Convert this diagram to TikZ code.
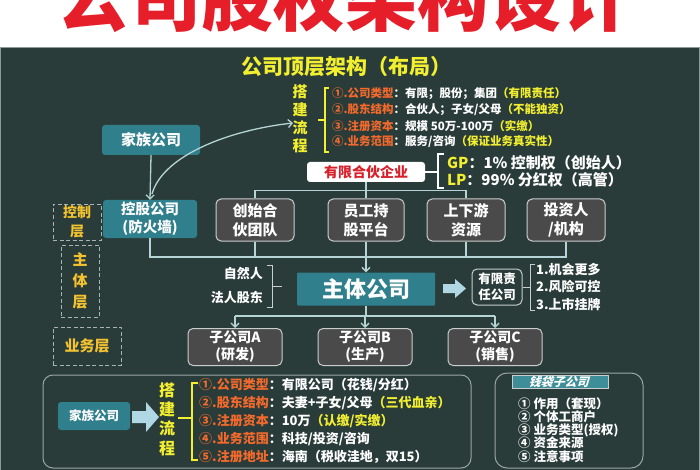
\documentclass[tikz,border=0pt]{standalone}
\usepackage{fontspec}
\setmainfont{Noto Sans CJK SC}
\usetikzlibrary{arrows.meta}
\definecolor{board}{HTML}{293C39}
\definecolor{boardedge}{HTML}{8A9A98}
\definecolor{tealc}{HTML}{2F7F8C}
\definecolor{hdrteal}{HTML}{3D8E98}
\definecolor{grayc}{HTML}{4B4A4A}
\definecolor{edgec}{HTML}{C9CDCD}
\definecolor{linec}{HTML}{B4D4D6}
\definecolor{yel}{HTML}{F2EE30}
\definecolor{gold}{HTML}{F2C230}
\definecolor{orng}{HTML}{F56A2C}
\definecolor{titlered}{HTML}{E61E2A}
\definecolor{lpred}{HTML}{D8202A}
\definecolor{dashc}{HTML}{A9B3B3}
\definecolor{arrowc}{HTML}{B0D8E4}
\definecolor{frame}{HTML}{9AA5A5}
\newcommand\fsz[2]{\fontsize{#1}{#2}\selectfont}
\newcommand\itm[3]{{\color{orng}#1}：#2{\color{yel}#3}}
\begin{document}
\begin{tikzpicture}[x=1pt,y=-1pt,
  tealbox/.style={fill=tealc, rounded corners=3pt, text=white, align=center, inner sep=0pt},
  graybox/.style={fill=grayc, draw=edgec, line width=1pt, rounded corners=5pt, text=white,
    align=center, inner sep=0pt, minimum width=78pt, minimum height=42pt, font=\fsz{15}{19}\bfseries},
  subbox/.style={graybox, minimum width=94pt, minimum height=37pt, font=\fsz{14}{17}\bfseries},
  conn/.style={draw=linec, line width=1.3pt},
  tip/.style={-{Straight Barb[length=4pt,width=8pt]}},
  dashbox/.style={draw=dashc, dash pattern=on 4pt off 2.5pt, line width=1pt},
  lbl/.style={text=gold, align=center, inner sep=0pt},
  txt/.style={anchor=west, inner sep=0pt, text=white},
  brk/.style={line width=1.5pt}
]
\useasboundingbox (0,0) rectangle (700,470);
\fill[white] (0,0) rectangle (700,470);
\node[anchor=base, text=titlered, font=\fsz{72}{72}\bfseries, inner sep=0pt] (title) at (345,26) {公司股权架构设计};
\draw[fill=board, draw=boardedge, line width=1pt] (0.5,47.5) rectangle (699.5,470.5);

% ---------- top block ----------
\node[font=\fsz{21}{21}\bfseries, text=yel, inner sep=0pt] (toptitle) at (346,67) {公司顶层架构（布局）};
\node[font=\fsz{15}{18}\bfseries, text=yel, align=center, inner sep=0pt] (flow1) at (300,119) {搭\\建\\流\\程};
\draw[yel, brk] (329,88) -- (325,88) -- (325,152) -- (329,152);
\draw[yel, brk] (318,120) -- (325,120);
\node[txt, font=\fsz{11.5}{12}\bfseries] (t1) at (332,94) {\itm{①.公司类型}{有限；股份；集团}{（有限责任）}};
\node[txt, font=\fsz{11.5}{12}\bfseries] (t2) at (332,110) {\itm{②.股东结构}{合伙人；子女/父母}{（不能独资）}};
\node[txt, font=\fsz{11.5}{12}\bfseries] (t3) at (332,126) {\itm{③.注册资本}{规模 50万-100万}{（实缴）}};
\node[txt, font=\fsz{11.5}{12}\bfseries] (t4) at (332,142) {\itm{④.业务范围}{服务/咨询}{（保证业务真实性）}};

\node[tealbox, minimum width=98pt, minimum height=30pt, font=\fsz{15}{15}\bfseries] (famtop) at (151,140) {家族公司};
\node[tealbox, minimum width=94pt, minimum height=38pt, font=\fsz{14.5}{18}\bfseries] (hold) at (150,219) {控股公司\\(防火墙)};
\draw[conn, tip] (famtop.south) -- (hold.north);
\coordinate (cstart) at (152,194);
\coordinate (cend) at (293,123);
\draw[conn, tip] (cstart) .. controls (163,155) and (230,130) .. (cend);

\node[fill=white, rounded corners=3pt, text=lpred, font=\fsz{14}{14}\bfseries, minimum width=118pt, minimum height=20pt, inner sep=0pt] (lp) at (366,172) {有限合伙企业};
\draw[white, brk] (lp.east) -- (438,172);
\draw[white, brk] (444,154) -- (438,154) -- (438,188) -- (444,188);
\node[txt, font=\fsz{15}{15}\bfseries] (gp) at (447,163) {{\color{yel}GP}：1\% 控制权（创始人）};
\node[txt, font=\fsz{15}{15}\bfseries] (lpx) at (447,180) {{\color{yel}LP}：99\% 分红权（高管）};

\node[graybox] (b1) at (255,220) {创始合\\伙团队};
\node[graybox, minimum width=76pt] (b2) at (366,220) {员工持\\股平台};
\node[graybox] (b3) at (466,220) {上下游\\资源};
\node[graybox] (b4) at (566,220) {投资人\\/机构};

\draw[conn] (lp.south) -- (b2.north);
\draw[conn] (b1.north) -- ++(0,-8) -| (b3.north);

% ---------- layer labels ----------
\node[dashbox, lbl, minimum width=48pt, minimum height=36pt, font=\fsz{14}{19}\bfseries] (ctrl) at (77,222) {控制\\层};
\node[dashbox, lbl, minimum width=38pt, minimum height=72pt, font=\fsz{15}{21}\bfseries] (body) at (80,281) {主\\体\\层};
\node[dashbox, lbl, minimum width=68pt, minimum height=38pt, font=\fsz{15}{15}\bfseries] (biz) at (87,346) {业务层};

% ---------- middle ----------
\coordinate (hl) at (0,257);
\draw[conn] (hold.south) -- (hold.south |- hl) -- (b4.south |- hl) -- (b4.south);
\draw[conn] (b1.south) -- (b1.south |- hl);
\draw[conn] (b2.south) -- (b2.south |- hl);
\draw[conn] (b3.south) -- (b3.south |- hl);

\node[tealbox, rounded corners=1pt, minimum width=138pt, minimum height=33pt, font=\fsz{22}{22}\bfseries] (main) at (366,289) {主体公司};
\draw[conn, tip] (main.north |- hl) -- (main.north);

\node[txt, anchor=east, font=\fsz{13}{13}\bfseries] (nat) at (263,274) {自然人};
\node[txt, anchor=east, font=\fsz{13}{13}\bfseries] (corp) at (263,297) {法人股东};
\draw[edgec, line width=1pt] (267,265) -- (272,265) -- (272,307) -- (267,307);
\draw[edgec, line width=1pt] (272,286) -- (282,286);

\fill[arrowc] (443,284) -- (455,284) -- (455,279) -- (466,288.5) -- (455,298) -- (455,293) -- (443,293) -- cycle;
\node[draw=edgec, line width=1pt, rounded corners=5pt, text=white, align=center, inner sep=0pt,
  minimum width=50pt, minimum height=36pt, font=\fsz{12.5}{16}\bfseries] (llc) at (497,287) {有限责\\任公司};
\draw[edgec, line width=1pt] (llc.east) -- (530,287);
\draw[edgec, line width=1pt] (535,264) -- (530,264) -- (530,310) -- (535,310);
\node[txt, font=\fsz{13}{13}\bfseries] (r1) at (536,270) {1.机会更多};
\node[txt, font=\fsz{13}{13}\bfseries] (r2) at (536,287) {2.风险可控};
\node[txt, font=\fsz{13}{13}\bfseries] (r3) at (536,304) {3.上市挂牌};

\node[subbox] (sa) at (235,347) {子公司A\\(研发)};
\node[subbox] (sb) at (365,347) {子公司B\\(生产)};
\node[subbox] (sc) at (495,347) {子公司C\\(销售)};
\coordinate (sl) at (0,316);
\draw[conn] (main.south) -- (main.south |- sl);
\draw[conn] (sa.north |- sl) -- (sc.north |- sl);
\draw[conn, tip] (sa.north |- sl) -- (sa.north);
\draw[conn, tip] (sb.north |- sl) -- (sb.north);
\draw[conn, tip] (sc.north |- sl) -- (sc.north);

% ---------- bottom left ----------
\draw[frame, line width=1pt, rounded corners=10pt] (43,375) rectangle (471,468);
\node[tealbox, minimum width=72pt, minimum height=28pt, font=\fsz{12.5}{12.5}\bfseries] (fambot) at (94,416) {家族公司};
\fill[arrowc] (132,411) -- (146,411) -- (146,402) -- (159,417) -- (146,432) -- (146,423) -- (132,423) -- cycle;
\node[font=\fsz{16}{19.3}\bfseries, text=yel, align=center, inner sep=0pt] (flow2) at (167,419) {搭\\建\\流\\程};
\draw[yel, brk] (178,418) -- (192,418);
\draw[yel, brk] (198,383) -- (192,383) -- (192,460) -- (198,460);
\node[txt, font=\fsz{13}{13}\bfseries] (u1) at (199,385) {\itm{①.公司类型}{有限公司（花钱/分红）}{}};
\node[txt, font=\fsz{13}{13}\bfseries] (u2) at (199,403) {\itm{②.股东结构}{夫妻+子女/父母}{（三代血亲）}};
\node[txt, font=\fsz{13}{13}\bfseries] (u3) at (199,421) {\itm{③.注册资本}{10万}{（认缴/实缴）}};
\node[txt, font=\fsz{13}{13}\bfseries] (u4) at (199,439) {\itm{④.业务范围}{科技/投资/咨询}{}};
\node[txt, font=\fsz{13}{13}\bfseries] (u5) at (199,457) {\itm{⑤.注册地址}{海南（税收洼地，双15）}{}};

% ---------- bottom right ----------
\draw[frame, line width=1pt, rounded corners=12pt] (495,373) rectangle (643,468);
\node[fill=hdrteal, draw=edgec, line width=0.6pt, minimum width=96pt, minimum height=13pt, inner sep=0pt] (qdbox) at (560,382) {};
\begin{scope}[shift={(560,382)}, xslant=0.3]
\node[transform shape, text=white, font=\fsz{12}{12}\bfseries, inner sep=0pt] (qd) at (0,0) {钱袋子公司};
\end{scope}
\node[txt, font=\fsz{12.5}{13}\bfseries] (q1) at (518,404) {① 作用（套现）};
\node[txt, font=\fsz{12.5}{13}\bfseries] (q2) at (518,417) {② 个体工商户};
\node[txt, font=\fsz{12.5}{13}\bfseries] (q3) at (518,430) {③ 业务类型(授权)};
\node[txt, font=\fsz{12.5}{13}\bfseries] (q4) at (518,443) {④ 资金来源};
\node[txt, font=\fsz{12.5}{13}\bfseries] (q5) at (518,457) {⑤ 注意事项};
\end{tikzpicture}
\end{document}
